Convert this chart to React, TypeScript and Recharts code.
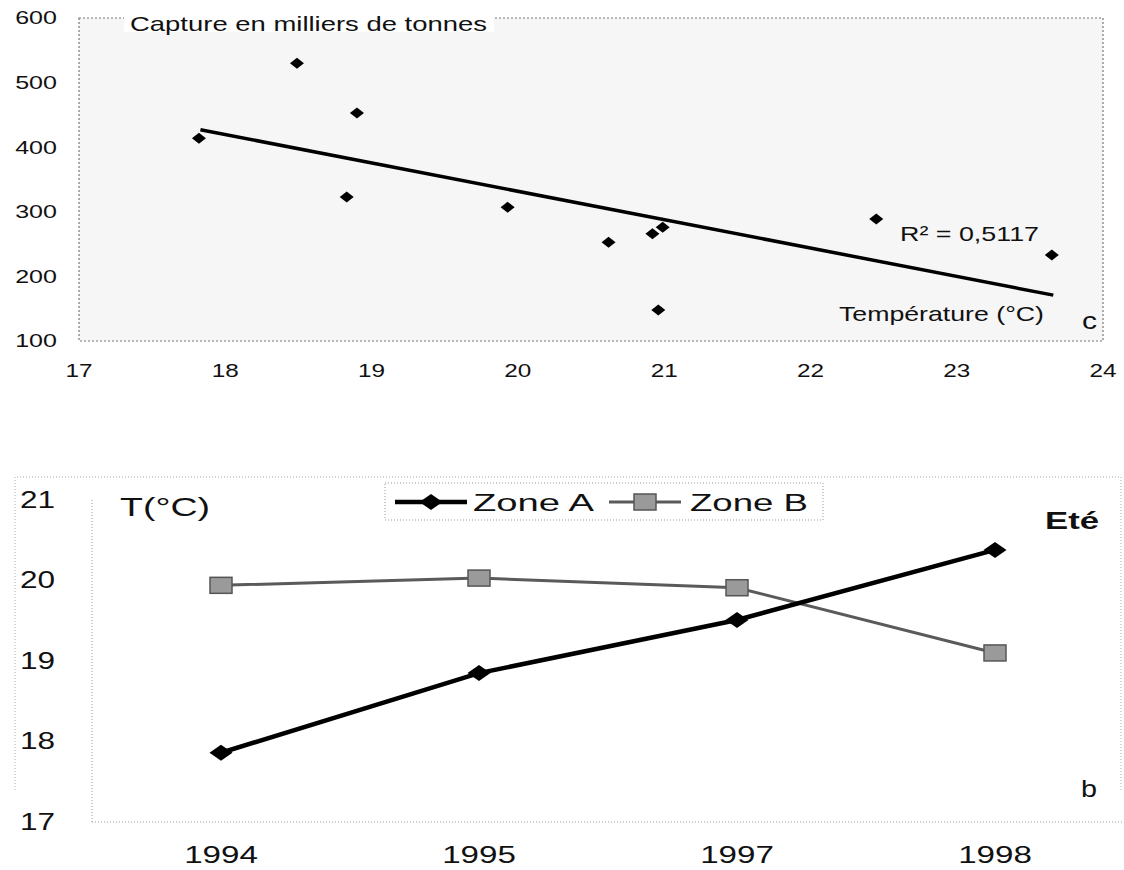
import {
  Line,
  LineChart,
  ReferenceArea,
  ReferenceLine,
  Scatter,
  ScatterChart,
  XAxis,
  YAxis,
} from "recharts";

const FONT = '"Liberation Sans", Arial, sans-serif';
const INK = "#111";

// chart c : catch vs temperature
const temperatures = [17.82, 18.49, 18.83, 18.9, 19.93, 20.62, 20.92, 20.99, 20.96, 22.45, 23.65];
const captures = [414, 530, 323, 453, 307, 253, 266, 276, 148, 289, 233];
const trendT = [17.83, 23.66];
const trendC = [427, 171];
const tempTicks = [17, 18, 19, 20, 21, 22, 23, 24];
const captureTicks = [100, 200, 300, 400, 500, 600];

// chart b : summer temperature by zone
const years = ["1994", "1995", "1997", "1998"];
const zoneA = [17.86, 18.85, 19.51, 20.38];
const zoneB = [19.94, 20.03, 19.91, 19.1];
const summerTicks = [17, 18, 19, 20, 21];

const scatterData = temperatures.map((t, i) => ({ t, c: captures[i] }));
const lineData = years.map((year, i) => ({ year, a: zoneA[i], b: zoneB[i] }));

function SText({ x, y, size, sx = 1, anchor = "start", weight = 400, len, children }: any) {
  if (len) {
    return (
      <text
        x={x}
        y={y}
        fontSize={size}
        fontFamily={FONT}
        fontWeight={weight}
        fill={INK}
        textAnchor={anchor}
        dominantBaseline="central"
        textLength={len}
        lengthAdjust="spacingAndGlyphs"
      >
        {children}
      </text>
    );
  }
  return (
    <text
      transform={`translate(${x},${y}) scale(${sx},1)`}
      fontSize={size}
      fontFamily={FONT}
      fontWeight={weight}
      fill={INK}
      textAnchor={anchor}
      dominantBaseline="central"
    >
      {children}
    </text>
  );
}

function Diamond({ cx, cy, w, h, fill = "#000" }: any) {
  if (cx == null || cy == null) return null;
  return (
    <polygon
      points={`${cx},${cy - h / 2} ${cx + w / 2},${cy} ${cx},${cy + h / 2} ${cx - w / 2},${cy}`}
      fill={fill}
    />
  );
}

function Square({ cx, cy, w, h }: any) {
  if (cx == null || cy == null) return null;
  return <rect x={cx - w / 2} y={cy - h / 2} width={w} height={h} fill="#9a9a9a" stroke="#555" strokeWidth={1.5} />;
}

function CaptureChart() {
  return (
    <ScatterChart width={1124} height={400} margin={{ top: 18, right: 21, left: 19, bottom: 29 }}>
      <XAxis
        type="number"
        dataKey="t"
        domain={[17, 24]}
        ticks={tempTicks}
        interval={0}
        height={30}
        axisLine={false}
        tickLine={false}
        tickSize={0}
        tickMargin={0}
        tick={(p: any) => (
          <SText key={p.payload.value} x={p.x} y={p.y + 29} size={19} sx={1.28} anchor="middle">
            {p.payload.value}
          </SText>
        )}
      />
      <YAxis
        type="number"
        dataKey="c"
        domain={[100, 600]}
        ticks={captureTicks}
        interval={0}
        width={60}
        axisLine={false}
        tickLine={false}
        tickSize={0}
        tickMargin={0}
        tick={(p: any) => (
          <SText key={p.payload.value} x={p.x - 22} y={p.y} size={19} sx={1.32} anchor="end">
            {p.payload.value}
          </SText>
        )}
      />
      <ReferenceArea
        x1={17}
        x2={24}
        y1={100}
        y2={600}
        fill="#000"
        fillOpacity={0.035}
        stroke="#777"
        strokeDasharray="2 2"
        strokeWidth={1.2}
      />
      <ReferenceLine
        segment={[
          { x: trendT[0], y: trendC[0] },
          { x: trendT[1], y: trendC[1] },
        ]}
        stroke="#000"
        strokeWidth={3.5}
        ifOverflow="visible"
      />
      <Scatter
        data={scatterData}
        isAnimationActive={false}
        shape={(p: any) => <Diamond cx={p.cx} cy={p.cy} w={14} h={11} />}
      />
    </ScatterChart>
  );
}

function SummerChart() {
  return (
    <LineChart width={1124} height={428} data={lineData} margin={{ top: 60, right: 0, left: 22, bottom: 6 }}>
      <XAxis
        dataKey="year"
        padding={{ left: 129, right: 129 }}
        height={40}
        axisLine={{ stroke: "#999", strokeDasharray: "1 2" }}
        tickLine={false}
        tickSize={0}
        tickMargin={0}
        interval={0}
        tick={(p: any) => (
          <SText key={p.payload.value} x={p.x} y={p.y + 33} size={24} sx={1.38} anchor="middle">
            {p.payload.value}
          </SText>
        )}
      />
      <YAxis
        domain={[17, 21]}
        ticks={summerTicks}
        interval={0}
        width={70}
        axisLine={{ stroke: "#999", strokeDasharray: "1 2" }}
        tickLine={false}
        tickSize={0}
        tickMargin={0}
        tick={(p: any) => (
          <SText key={p.payload.value} x={p.x - 37} y={p.y} size={23} sx={1.37} anchor="end">
            {p.payload.value}
          </SText>
        )}
      />
      <Line
        type="linear"
        dataKey="b"
        name="Zone B"
        stroke="#5a5a5a"
        strokeWidth={3}
        isAnimationActive={false}
        dot={(p: any) => <Square key={p.index} cx={p.cx} cy={p.cy} w={22} h={16} />}
      />
      <Line
        type="linear"
        dataKey="a"
        name="Zone A"
        stroke="#000"
        strokeWidth={4.5}
        isAnimationActive={false}
        dot={(p: any) => <Diamond key={p.index} cx={p.cx} cy={p.cy} w={23} h={16} />}
      />
    </LineChart>
  );
}

function Annotations() {
  return (
    <svg width={1124} height={870} style={{ position: "absolute", left: 0, top: 0, pointerEvents: "none" }}>
      {/* chart c */}
      <rect x={124} y={10} width={370} height={22} fill="#fff" />
      <SText x={130} y={23} size={21} len={357}>Capture en milliers de tonnes</SText>
      <SText x={900} y={233} size={21} len={139}>R² = 0,5117</SText>
      <SText x={839} y={313} size={21} len={205}>Température (°C)</SText>
      <SText x={1082} y={321} size={23} len={15}>c</SText>

      {/* chart b frame */}
      <path d="M15,790 V477 H1121 V790" fill="none" stroke="#aaa" strokeDasharray="1 2" />
      <SText x={120} y={507} size={25} len={90}>T(°C)</SText>
      <SText x={1045} y={520} size={24} weight={700} len={54}>Eté</SText>
      <SText x={1081} y={788} size={24} len={16}>b</SText>

      {/* legend */}
      <rect x={385} y={483} width={438} height={37} fill="#fff" stroke="#999" strokeDasharray="1 2" />
      <line x1={395} x2={467} y1={502} y2={502} stroke="#000" strokeWidth={4.5} />
      <Diamond cx={431} cy={502} w={23} h={16} />
      <SText x={473} y={502} size={24} len={121}>Zone A</SText>
      <line x1={609} x2={681} y1={502} y2={502} stroke="#5a5a5a" strokeWidth={3} />
      <Square cx={645} cy={502} w={22} h={16} />
      <SText x={690} y={502} size={24} len={118}>Zone B</SText>
    </svg>
  );
}

export default function App() {
  return (
    <div style={{ position: "absolute", left: 0, top: 0, width: 1124, height: 870, background: "#fff", overflow: "hidden" }}>
      <div style={{ position: "absolute", left: 0, top: 0 }}>
        <CaptureChart />
      </div>
      <div style={{ position: "absolute", left: 0, top: 440 }}>
        <SummerChart />
      </div>
      <Annotations />
    </div>
  );
}
